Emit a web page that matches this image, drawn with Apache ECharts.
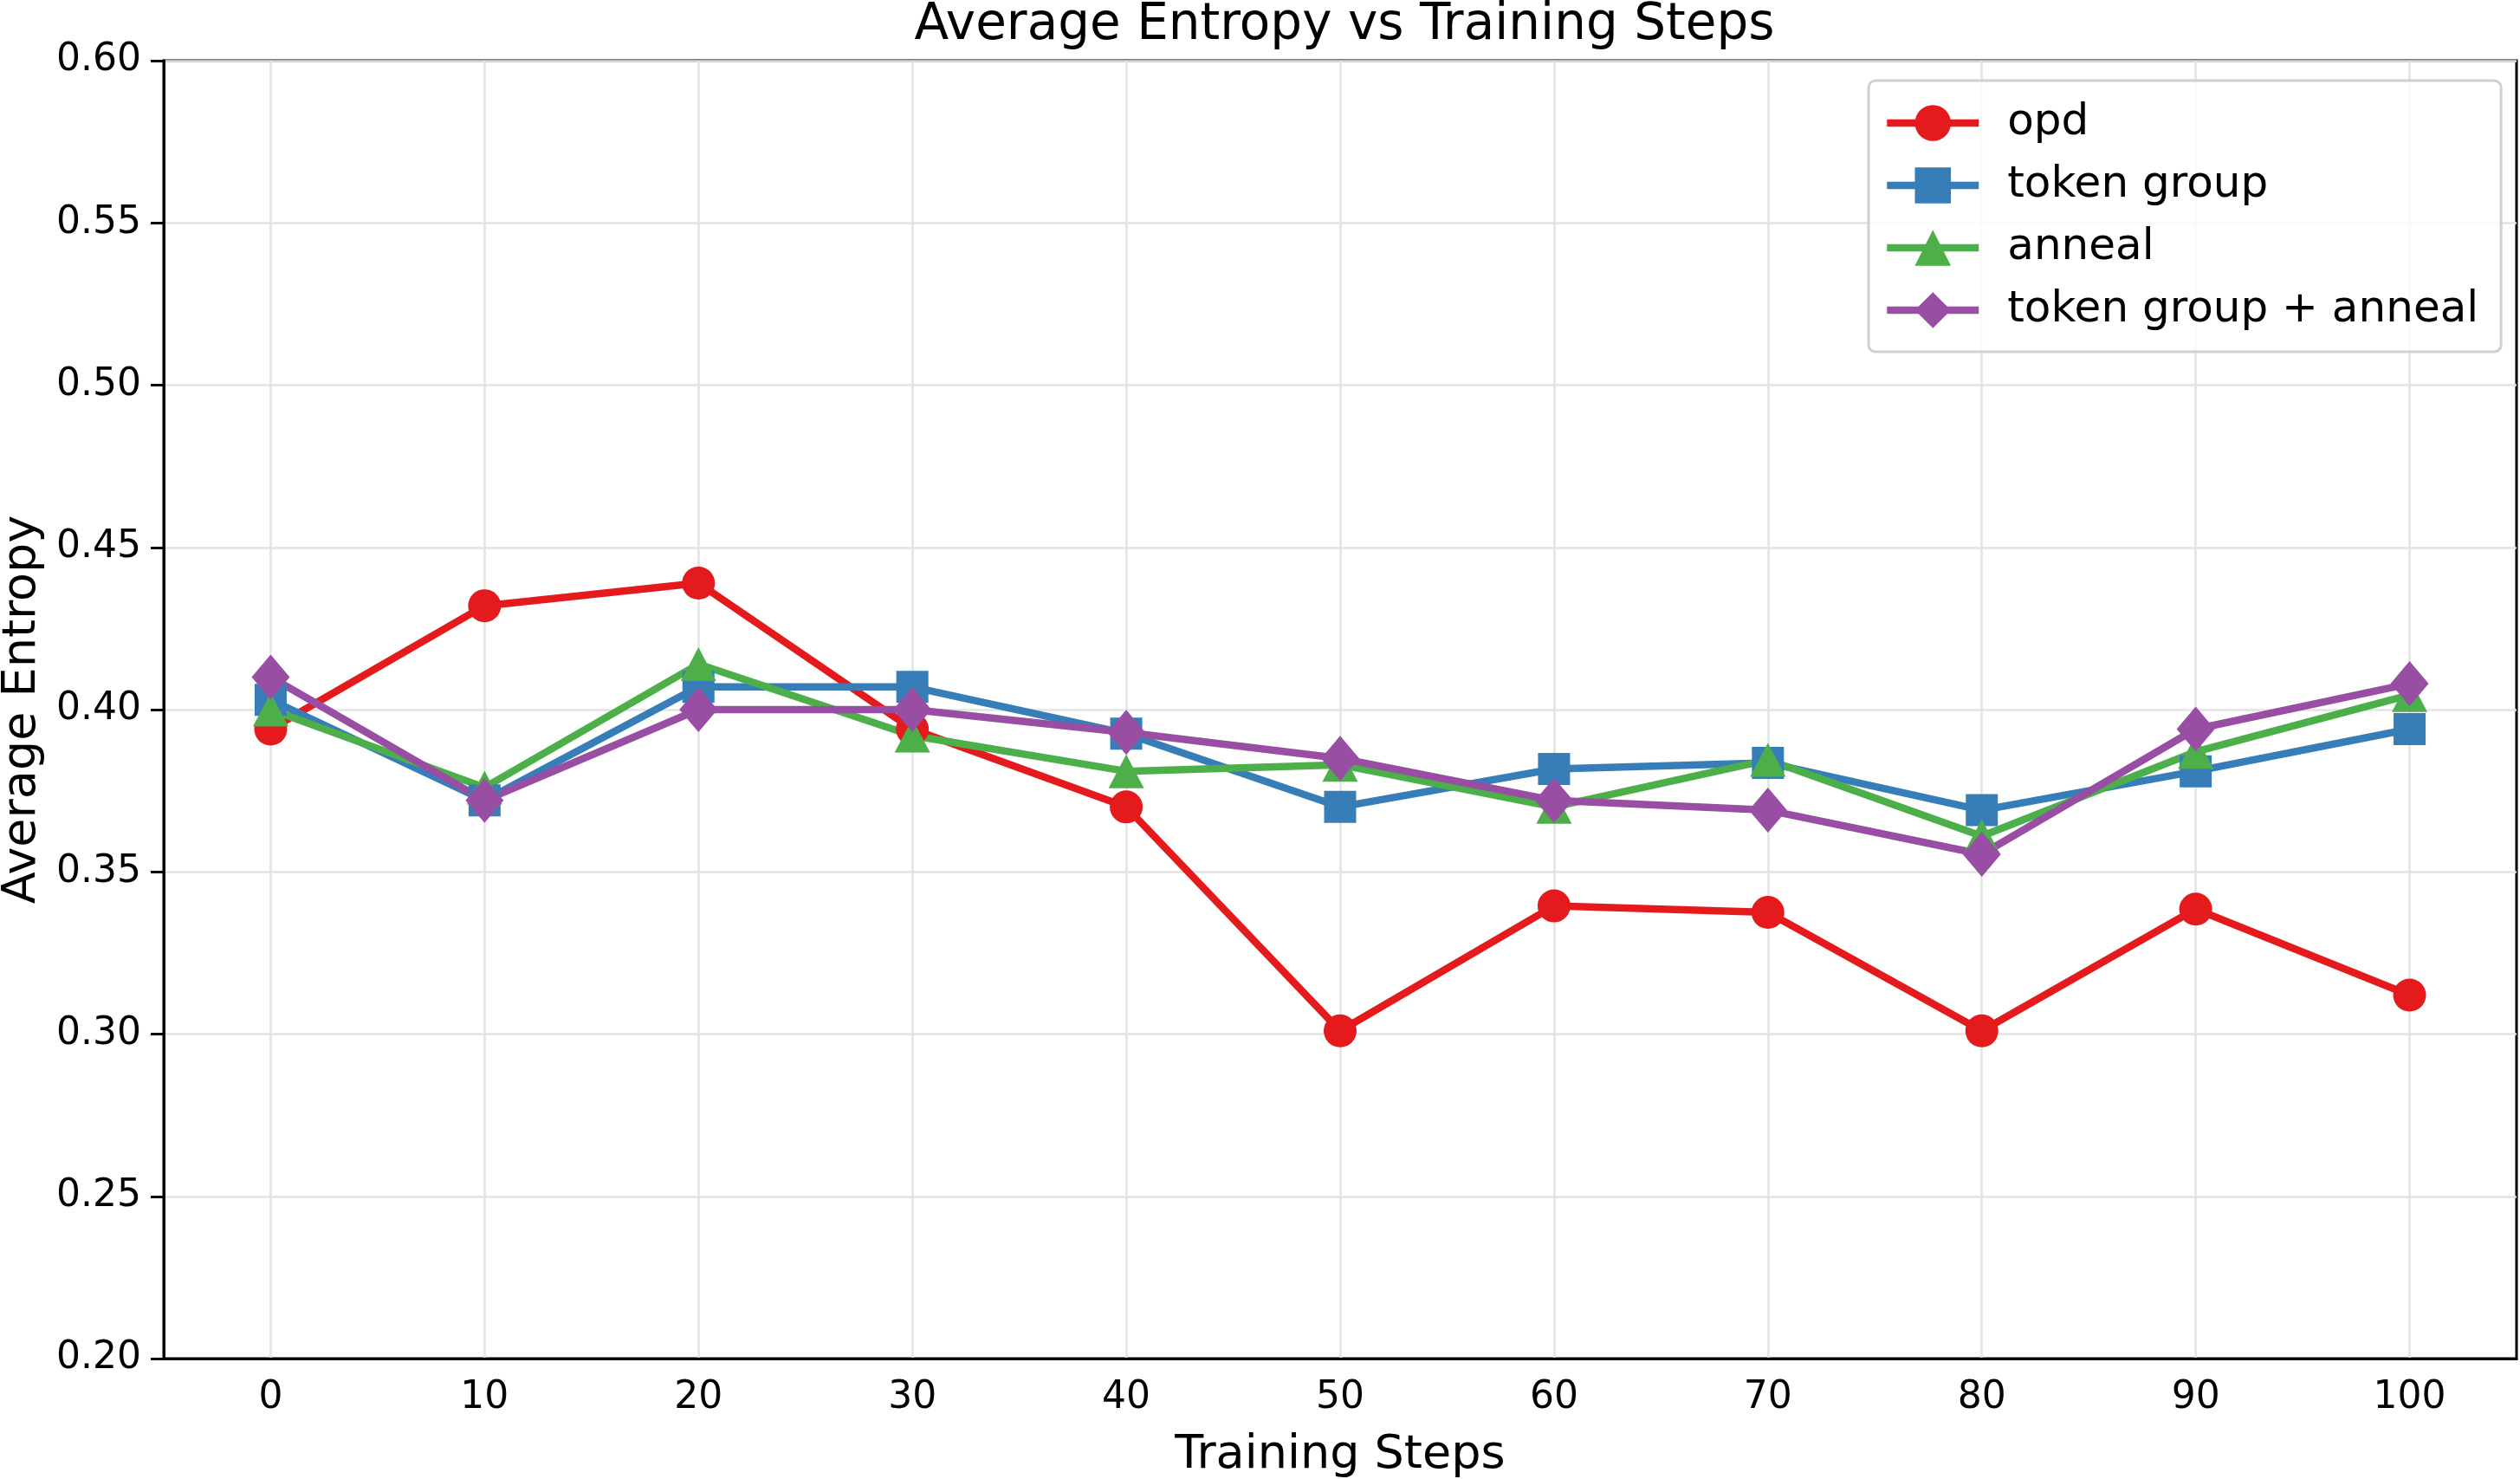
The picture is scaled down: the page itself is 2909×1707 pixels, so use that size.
<!DOCTYPE html>
<html>
<head>
<meta charset="utf-8">
<script src="https://cdn.jsdelivr.net/npm/echarts@6/dist/echarts.min.js"></script>
<style>
  html, body { margin: 0; padding: 0; background: #fff; }
  #main { width: 2909px; height: 1707px; }
</style>
</head>
<body>
<div id="main"></div>
<script>
// training steps on the x axis
const steps = ['0', '10', '20', '30', '40', '50', '60', '70', '80', '90', '100']
// average entropy per method
const opd = [0.394, 0.432, 0.439, 0.394, 0.370, 0.301, 0.3395, 0.3375, 0.301, 0.3385, 0.312]
const tokenGroup = [0.403, 0.372, 0.407, 0.407, 0.3926, 0.370, 0.3817, 0.3836, 0.369, 0.381, 0.394]
const anneal = [0.400, 0.376, 0.414, 0.392, 0.381, 0.383, 0.370, 0.3845, 0.361, 0.387, 0.4045]
const tokenGroupAnneal = [0.410, 0.372, 0.400, 0.400, 0.393, 0.385, 0.372, 0.369, 0.3554, 0.394, 0.408]

const font = 'DejaVu Sans'

function line (name, ys, color, symbol, size) {
  return {
    name,
    type: 'line',
    data: ys,
    symbol,
    symbolSize: size,
    itemStyle: { color },
    lineStyle: { color, width: 8.5 },
    emphasis: { disabled: true },
    animation: false
  }
}

let chart = echarts.init(document.getElementById('main'))
chart.setOption({
  backgroundColor: '#fff',
  title: {
    text: 'Average Entropy vs Training Steps',
    left: 1547,
    textAlign: 'center',
    top: -4,
    textStyle: { fontFamily: font, fontSize: 58, fontWeight: 'normal', color: '#000' }
  },
  grid: {
    left: 189, right: 4, top: 70, bottom: 139,
    show: true, borderColor: '#000', borderWidth: 3,
    containLabel: false,
    outerBoundsMode: 'none'
  },
  legend: {
    orient: 'vertical',
    left: 2157,
    top: 93,
    padding: [24, 26, 23, 17],
    itemWidth: 106,
    itemHeight: 52,
    itemGap: 22,
    backgroundColor: 'rgba(255,255,255,0.8)',
    borderColor: '#d0d0d0',
    borderWidth: 3,
    borderRadius: 8,
    lineStyle: { width: 8.5 },
    textStyle: { fontFamily: font, fontSize: 50, color: '#000', padding: [0, 0, 0, 28] },
    data: ['opd', 'token group', 'anneal', 'token group + anneal']
  },
  xAxis: {
    type: 'category',
    data: steps,
    boundaryGap: true,
    name: 'Training Steps',
    nameLocation: 'middle',
    nameGap: 85,
    nameTextStyle: { fontFamily: font, fontSize: 54, color: '#000' },
    axisLine: { lineStyle: { color: '#000', width: 3 } },
    axisTick: { alignWithLabel: true, length: 15, lineStyle: { color: '#000', width: 3 } },
    axisLabel: { fontFamily: font, fontSize: 44, color: '#000', margin: 24 },
    splitLine: { show: true, alignWithLabel: true, lineStyle: { color: '#e3e3e3', width: 2.5 } }
  },
  yAxis: {
    type: 'value',
    min: 0.2,
    max: 0.6,
    interval: 0.05,
    name: 'Average Entropy',
    nameLocation: 'middle',
    nameGap: 136,
    nameTextStyle: { fontFamily: font, fontSize: 54, color: '#000' },
    axisLine: { show: true, onZero: false, lineStyle: { color: '#000', width: 3 } },
    axisTick: { show: true, length: 15, lineStyle: { color: '#000', width: 3 } },
    axisLabel: {
      fontFamily: font, fontSize: 44, color: '#000', margin: 26,
      formatter: v => v.toFixed(2)
    },
    splitLine: { show: true, lineStyle: { color: '#e3e3e3', width: 2.5 } }
  },
  series: [
    line('opd', opd, '#e41a1c', 'circle', 38),
    line('token group', tokenGroup, '#377eb8', 'rect', 37),
    line('anneal', anneal, '#4daf4a', 'triangle', [41, 39]),
    line('token group + anneal', tokenGroupAnneal, '#984ea3', 'diamond', [44, 52])
  ]
})
</script>
</body>
</html>
